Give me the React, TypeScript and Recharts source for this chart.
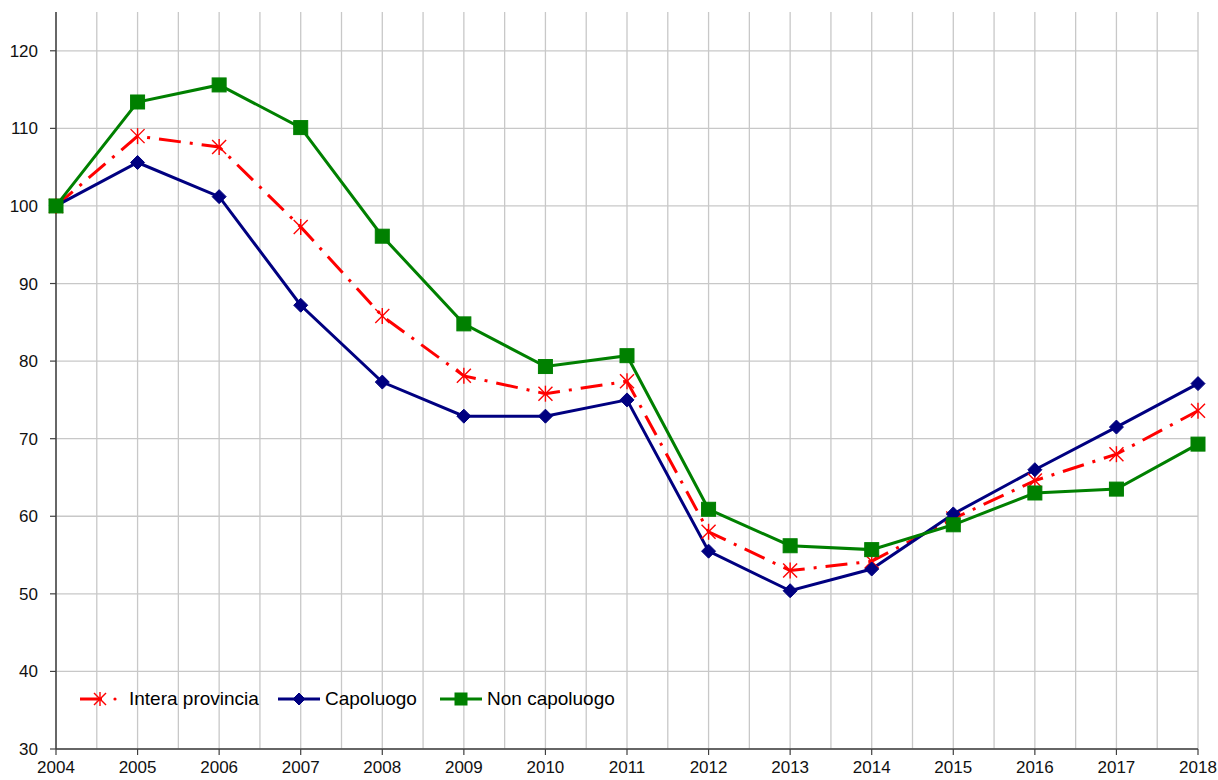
import React from 'react';
import { LineChart, Line, XAxis, YAxis, CartesianGrid } from 'recharts';

const years = [2004, 2005, 2006, 2007, 2008, 2009, 2010, 2011, 2012, 2013, 2014, 2015, 2016, 2017, 2018];
const interaProvincia = [100, 109.0, 107.6, 97.3, 85.8, 78.1, 75.8, 77.4, 58.0, 53.0, 54.2, 59.7, 64.6, 68.0, 73.6];
const capoluogo = [100, 105.6, 101.2, 87.2, 77.3, 72.9, 72.9, 75.0, 55.5, 50.4, 53.2, 60.3, 66.0, 71.5, 77.1];
const nonCapoluogo = [100, 113.4, 115.6, 110.1, 96.1, 84.8, 79.3, 80.7, 60.9, 56.2, 55.7, 58.9, 63.0, 63.5, 69.3];
const yTicks = [30, 40, 50, 60, 70, 80, 90, 100, 110, 120];
const verticalGrid = [2004, 2004.5, 2005, 2005.5, 2006, 2006.5, 2007, 2007.5, 2008, 2008.5, 2009, 2009.5, 2010, 2010.5, 2011, 2011.5, 2012, 2012.5, 2013, 2013.5, 2014, 2014.5, 2015, 2015.5, 2016, 2016.5, 2017, 2017.5, 2018];

const seriesNames = ['Intera provincia', 'Capoluogo', 'Non capoluogo'];

const data = years.map((y, i) => ({
  year: y,
  intera: interaProvincia[i],
  capo: capoluogo[i],
  non: nonCapoluogo[i],
}));

const RED = '#ff0000';
const NAVY = '#000080';
const GREEN = '#008000';
const FONT = '"Liberation Sans", Arial, sans-serif';

const Asterisk = ({ cx, cy, r = 7 }: { cx: number; cy: number; r?: number }) => (
  <g stroke={RED} strokeWidth={1.4} fill="none">
    <line x1={cx - r} y1={cy - r} x2={cx + r} y2={cy + r} />
    <line x1={cx - r} y1={cy + r} x2={cx + r} y2={cy - r} />
    <line x1={cx} y1={cy - r - 1} x2={cx} y2={cy + r + 1} />
  </g>
);

const Diamond = ({ cx, cy, r = 7 }: { cx: number; cy: number; r?: number }) => (
  <path d={`M${cx},${cy - r} L${cx + r},${cy} L${cx},${cy + r} L${cx - r},${cy} Z`} fill={NAVY} stroke={NAVY} strokeWidth={1} />
);

const Square = ({ cx, cy, r = 7 }: { cx: number; cy: number; r?: number }) => (
  <rect x={cx - r} y={cy - r} width={2 * r} height={2 * r} fill={GREEN} stroke={GREEN} strokeWidth={1} />
);

const LegendOverlay = () => {
  const items = [
    { name: seriesNames[0], color: RED, kind: 'star', left: 78 },
    { name: seriesNames[1], color: NAVY, kind: 'diamond', left: 276 },
    { name: seriesNames[2], color: GREEN, kind: 'square', left: 438 },
  ];
  return (
    <>
      {items.map((it) => (
        <div
          key={it.name}
          style={{
            position: 'absolute',
            left: it.left,
            top: 686,
            height: 26,
            display: 'flex',
            alignItems: 'center',
            fontFamily: FONT,
            fontSize: 19,
            color: '#000',
            whiteSpace: 'nowrap',
          }}
        >
          <svg width={it.kind === 'star' ? 48 : 46} height={26} style={{ marginRight: 3 }}>
            {it.kind === 'star' ? (
              <>
                <line x1={2} y1={13} x2={24} y2={13} stroke={RED} strokeWidth={3} />
                <Asterisk cx={22} cy={13} r={6} />
                <circle cx={37} cy={13} r={1.6} fill={RED} />
              </>
            ) : (
              <>
                <line x1={2} y1={13} x2={44} y2={13} stroke={it.color} strokeWidth={3} />
                {it.kind === 'diamond' ? <Diamond cx={23} cy={13} r={6} /> : <Square cx={23} cy={13} r={6} />}
              </>
            )}
          </svg>
          <span>{it.name}</span>
        </div>
      ))}
    </>
  );
};

export default function App() {
  return (
    <div style={{ position: 'absolute', left: 0, top: 0, width: 1218, height: 780, background: '#fff' }}>
      <LineChart width={1218} height={780} data={data} margin={{ top: 12, right: 20, left: 0, bottom: 0 }}>
        <CartesianGrid stroke="#c8c8c8" strokeWidth={1.3} verticalValues={verticalGrid} horizontalValues={yTicks} horizontal={true} vertical={true} />
        <XAxis
          dataKey="year"
          type="number"
          domain={[2004, 2018]}
          ticks={years}
          interval={0}
          height={31}
          tickSize={6}
          tickMargin={6}
          axisLine={{ stroke: '#404040', strokeWidth: 1.5 }}
          tickLine={{ stroke: '#404040', strokeWidth: 1.2 }}
          tick={{ fill: '#111', fontSize: 17, fontFamily: FONT }}
        />
        <YAxis
          type="number"
          domain={[30, 125]}
          ticks={yTicks}
          interval={0}
          width={56}
          tickSize={6}
          tickMargin={12}
          axisLine={{ stroke: '#404040', strokeWidth: 1.5 }}
          tickLine={{ stroke: '#404040', strokeWidth: 1.2 }}
          tick={{ fill: '#111', fontSize: 17, fontFamily: FONT }}
          allowDataOverflow
        />
        <Line
          dataKey="intera"
          name={seriesNames[0]}
          stroke={RED}
          strokeWidth={3}
          strokeDasharray="22 9 3 9"
          isAnimationActive={false}
          dot={(p: any) => <Asterisk key={`a${p.index}`} cx={p.cx} cy={p.cy} />}
          activeDot={false}
        />
        <Line
          dataKey="capo"
          name={seriesNames[1]}
          stroke={NAVY}
          strokeWidth={3}
          isAnimationActive={false}
          dot={(p: any) => <Diamond key={`d${p.index}`} cx={p.cx} cy={p.cy} />}
          activeDot={false}
        />
        <Line
          dataKey="non"
          name={seriesNames[2]}
          stroke={GREEN}
          strokeWidth={3}
          isAnimationActive={false}
          dot={(p: any) => <Square key={`s${p.index}`} cx={p.cx} cy={p.cy} />}
          activeDot={false}
        />
      </LineChart>
      <LegendOverlay />
    </div>
  );
}
